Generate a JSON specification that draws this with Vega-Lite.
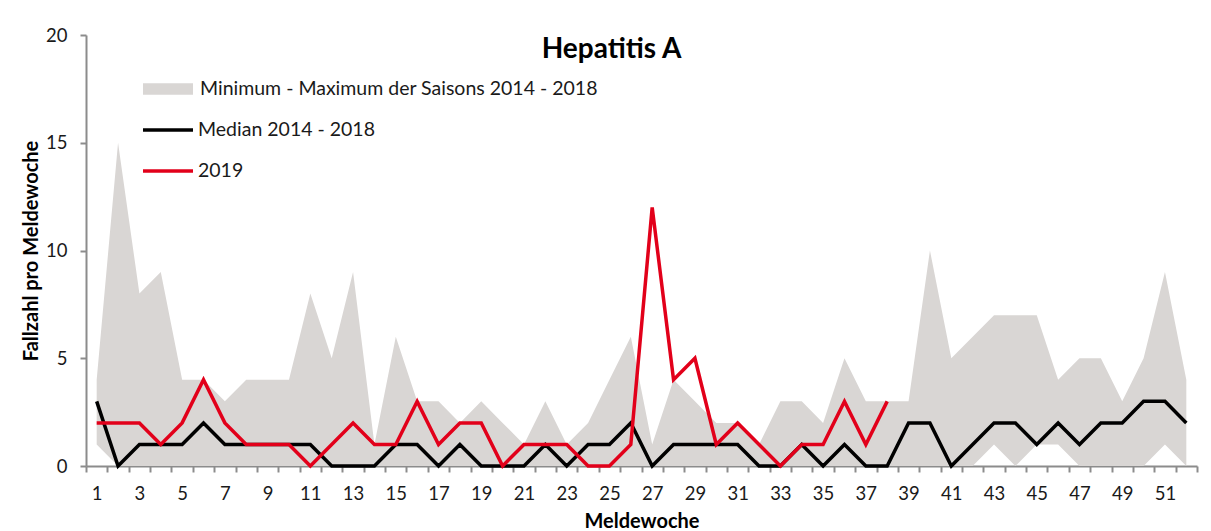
{
  "$schema": "https://vega.github.io/schema/vega-lite/v6.json",
  "width": 1111,
  "height": 431,
  "autosize": {"type": "none"},
  "padding": {"left": 86, "top": 35, "right": 14, "bottom": 65},
  "background": "white",
  "title": {
    "text": "Hepatitis A",
    "fontSize": 28,
    "fontWeight": "bold",
    "font": "Lato",
    "color": "#000000",
    "anchor": "middle",
    "dx": -30,
    "offset": -38
  },
  "data": {
    "values": [
      {"week": 1, "min": 1, "max": 4, "median": 3, "y2019": 2},
      {"week": 2, "min": 0, "max": 15, "median": 0, "y2019": 2},
      {"week": 3, "min": 0, "max": 8, "median": 1, "y2019": 2},
      {"week": 4, "min": 0, "max": 9, "median": 1, "y2019": 1},
      {"week": 5, "min": 0, "max": 4, "median": 1, "y2019": 2},
      {"week": 6, "min": 0, "max": 4, "median": 2, "y2019": 4},
      {"week": 7, "min": 0, "max": 3, "median": 1, "y2019": 2},
      {"week": 8, "min": 0, "max": 4, "median": 1, "y2019": 1},
      {"week": 9, "min": 0, "max": 4, "median": 1, "y2019": 1},
      {"week": 10, "min": 0, "max": 4, "median": 1, "y2019": 1},
      {"week": 11, "min": 0, "max": 8, "median": 1, "y2019": 0},
      {"week": 12, "min": 0, "max": 5, "median": 0, "y2019": 1},
      {"week": 13, "min": 0, "max": 9, "median": 0, "y2019": 2},
      {"week": 14, "min": 0, "max": 1, "median": 0, "y2019": 1},
      {"week": 15, "min": 0, "max": 6, "median": 1, "y2019": 1},
      {"week": 16, "min": 0, "max": 3, "median": 1, "y2019": 3},
      {"week": 17, "min": 0, "max": 3, "median": 0, "y2019": 1},
      {"week": 18, "min": 0, "max": 2, "median": 1, "y2019": 2},
      {"week": 19, "min": 0, "max": 3, "median": 0, "y2019": 2},
      {"week": 20, "min": 0, "max": 2, "median": 0, "y2019": 0},
      {"week": 21, "min": 0, "max": 1, "median": 0, "y2019": 1},
      {"week": 22, "min": 0, "max": 3, "median": 1, "y2019": 1},
      {"week": 23, "min": 0, "max": 1, "median": 0, "y2019": 1},
      {"week": 24, "min": 0, "max": 2, "median": 1, "y2019": 0},
      {"week": 25, "min": 0, "max": 4, "median": 1, "y2019": 0},
      {"week": 26, "min": 0, "max": 6, "median": 2, "y2019": 1},
      {"week": 27, "min": 0, "max": 1, "median": 0, "y2019": 12},
      {"week": 28, "min": 0, "max": 4, "median": 1, "y2019": 4},
      {"week": 29, "min": 0, "max": 3, "median": 1, "y2019": 5},
      {"week": 30, "min": 0, "max": 2, "median": 1, "y2019": 1},
      {"week": 31, "min": 0, "max": 2, "median": 1, "y2019": 2},
      {"week": 32, "min": 0, "max": 1, "median": 0, "y2019": 1},
      {"week": 33, "min": 0, "max": 3, "median": 0, "y2019": 0},
      {"week": 34, "min": 0, "max": 3, "median": 1, "y2019": 1},
      {"week": 35, "min": 0, "max": 2, "median": 0, "y2019": 1},
      {"week": 36, "min": 0, "max": 5, "median": 1, "y2019": 3},
      {"week": 37, "min": 0, "max": 3, "median": 0, "y2019": 1},
      {"week": 38, "min": 0, "max": 3, "median": 0, "y2019": 3},
      {"week": 39, "min": 0, "max": 3, "median": 2, "y2019": null},
      {"week": 40, "min": 0, "max": 10, "median": 2, "y2019": null},
      {"week": 41, "min": 0, "max": 5, "median": 0, "y2019": null},
      {"week": 42, "min": 0, "max": 6, "median": 1, "y2019": null},
      {"week": 43, "min": 1, "max": 7, "median": 2, "y2019": null},
      {"week": 44, "min": 0, "max": 7, "median": 2, "y2019": null},
      {"week": 45, "min": 1, "max": 7, "median": 1, "y2019": null},
      {"week": 46, "min": 1, "max": 4, "median": 2, "y2019": null},
      {"week": 47, "min": 0, "max": 5, "median": 1, "y2019": null},
      {"week": 48, "min": 0, "max": 5, "median": 2, "y2019": null},
      {"week": 49, "min": 0, "max": 3, "median": 2, "y2019": null},
      {"week": 50, "min": 0, "max": 5, "median": 3, "y2019": null},
      {"week": 51, "min": 1, "max": 9, "median": 3, "y2019": null},
      {"week": 52, "min": 0, "max": 4, "median": 2, "y2019": null}
    ]
  },
  "encoding": {
    "x": {
      "field": "week",
      "type": "ordinal",
      "bandPosition": 0.5,
      "scale": {"type": "band", "paddingInner": 0, "paddingOuter": 0},
      "axis": {
        "title": "Meldewoche",
        "labelAngle": 0,
        "tickBand": "extent",
        "labelExpr": "datum.value % 2 == 1 ? datum.label : ''",
        "labelOverlap": false,
        "labelFontSize": 18.5,
        "labelPadding": 12,
        "titleFontSize": 20,
        "titleFontWeight": "bold",
        "titlePadding": 9
      }
    }
  },
  "layer": [
    {
      "mark": {"type": "area", "opacity": 1},
      "encoding": {
        "y": {"field": "max", "type": "quantitative"},
        "y2": {"field": "min"},
        "fill": {
          "datum": "Minimum - Maximum der Saisons 2014 - 2018",
          "type": "nominal",
          "scale": {"range": ["#d9d6d4"]},
          "legend": {
            "orient": "none",
            "legendX": 57,
            "legendY": 29,
            "title": null,
            "symbolType": "M-1,-0.23H1V0.23H-1Z",
            "symbolSize": 2500,
            "symbolStrokeWidth": 0,
            "symbolOpacity": 1,
            "labelFontSize": 19.5,
            "labelLimit": 0,
            "labelOffset": 7
          }
        }
      }
    },
    {
      "mark": {"type": "line", "strokeWidth": 3.5},
      "encoding": {
        "y": {"field": "median", "type": "quantitative"},
        "stroke": {
          "datum": "Median 2014 - 2018",
          "type": "nominal",
          "scale": {"domain": ["Median 2014 - 2018", "2019"], "range": ["#000000", "#e2001a"]},
          "legend": {
            "orient": "none",
            "legendX": 55,
            "legendY": 68,
            "title": null,
            "symbolType": "stroke",
            "symbolSize": 2500,
            "symbolStrokeWidth": 3.5,
            "labelFontSize": 19.5,
            "labelLimit": 0,
            "labelOffset": 3,
            "rowPadding": 4
          }
        }
      }
    },
    {
      "mark": {"type": "line", "strokeWidth": 3.5},
      "encoding": {
        "y": {
          "field": "y2019",
          "type": "quantitative",
          "scale": {"domain": [0, 20], "nice": false},
          "axis": {
            "title": "Fallzahl pro Meldewoche",
            "values": [0, 5, 10, 15, 20],
            "grid": false,
            "labelFontSize": 18.5,
            "labelPadding": 13,
            "titleFontSize": 20,
            "titleFontWeight": "bold",
            "titlePadding": 4
          }
        },
        "stroke": {"datum": "2019", "type": "nominal"}
      }
    }
  ],
  "config": {
    "font": "Lato",
    "view": {"stroke": null},
    "axis": {
      "domainColor": "#8c8c8c",
      "domainWidth": 2,
      "tickColor": "#8c8c8c",
      "tickWidth": 2,
      "tickSize": 6,
      "labelColor": "#1a1a1a",
      "titleColor": "#000000",
      "labelFont": "Lato",
      "titleFont": "Lato"
    },
    "legend": {
      "labelColor": "#1a1a1a",
      "labelFont": "Lato"
    }
  }
}
